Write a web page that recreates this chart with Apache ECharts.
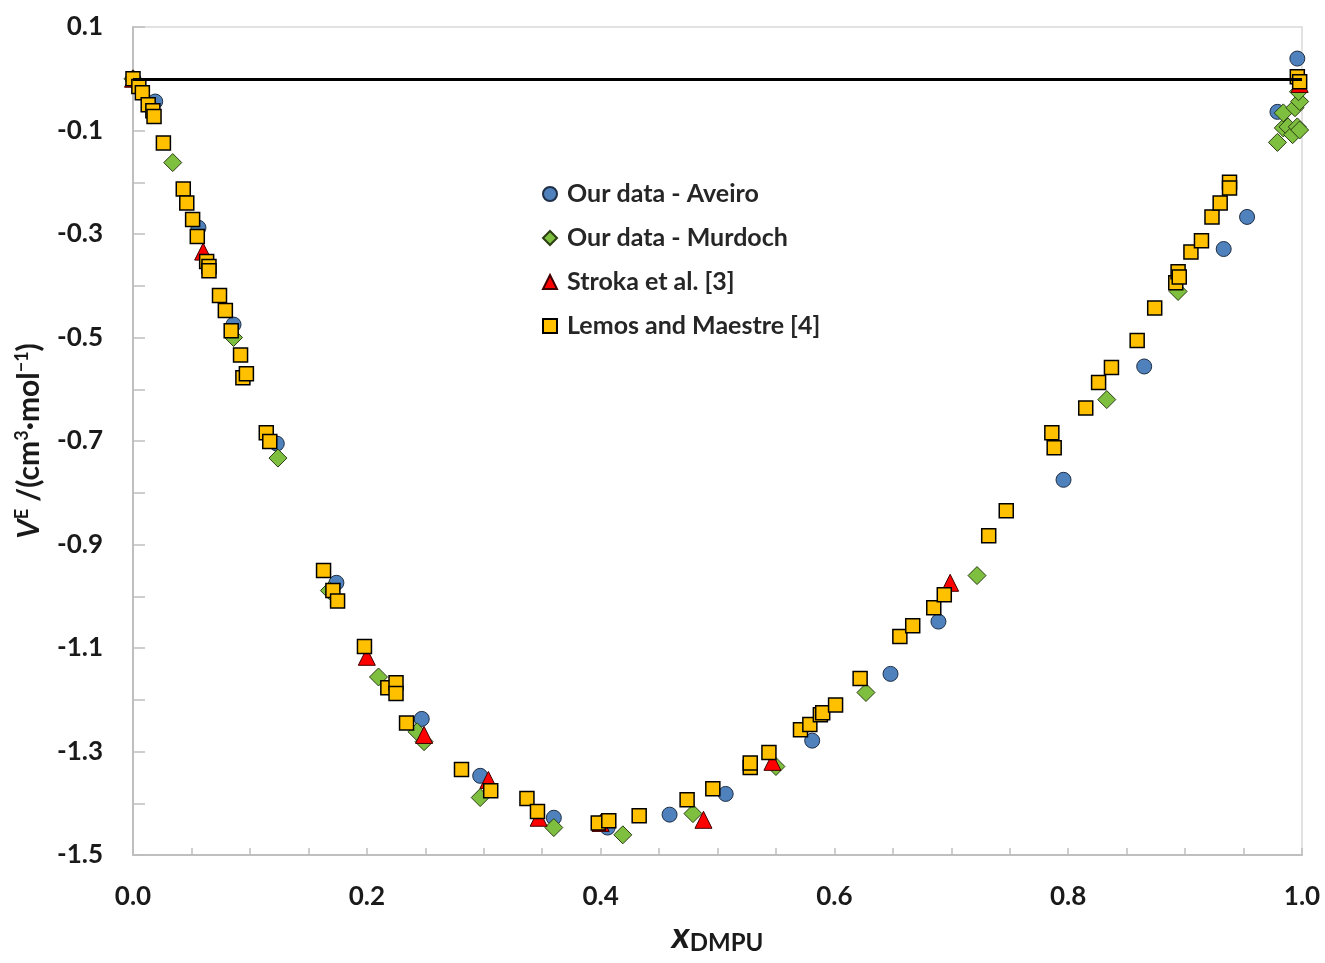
<!DOCTYPE html>
<html>
<head>
<meta charset="utf-8">
<script src="https://cdn.jsdelivr.net/npm/echarts@6/dist/echarts.min.js"></script>
<style>
  html, body { margin: 0; padding: 0; background: #fff; }
  #chart { width: 1325px; height: 963px; }
</style>
</head>
<body>
<div id="chart"></div>
<script>
// V^E vs x_DMPU
var aveiro = [
    [0.0, 0.0], [0.019, -0.044], [0.056, -0.288], [0.086, -0.475], [0.123, -0.705],
    [0.174, -0.974], [0.247, -1.237], [0.297, -1.347], [0.360, -1.428], [0.406, -1.447],
    [0.459, -1.422], [0.507, -1.382], [0.581, -1.279], [0.648, -1.150], [0.689, -1.049],
    [0.796, -0.775], [0.865, -0.556], [0.933, -0.329], [0.953, -0.267], [0.979, -0.064],
    [0.996, 0.039]
];
var murdoch = [
    [0.0, 0.0], [0.034, -0.162], [0.086, -0.500], [0.124, -0.733], [0.168, -0.989],
    [0.210, -1.156], [0.243, -1.262], [0.249, -1.281], [0.297, -1.389], [0.360, -1.447],
    [0.419, -1.461], [0.479, -1.420], [0.550, -1.329], [0.627, -1.186], [0.722, -0.960],
    [0.833, -0.620], [0.894, -0.411], [0.979, -0.123], [0.984, -0.095], [0.984, -0.066],
    [0.988, -0.093], [0.992, -0.108], [0.994, -0.056], [0.996, -0.093], [0.998, -0.099],
    [0.998, -0.044], [0.997, -0.025]
];
var stroka = [
    [0.0, 0.0], [0.060, -0.334], [0.200, -1.117], [0.249, -1.268], [0.304, -1.355],
    [0.347, -1.428], [0.400, -1.438], [0.488, -1.432], [0.547, -1.320], [0.699, -0.974],
    [0.998, -0.010]
];
var lemos = [
    [0.0, 0.0], [0.005, -0.015], [0.008, -0.027], [0.013, -0.050], [0.017, -0.062],
    [0.018, -0.073], [0.026, -0.124], [0.043, -0.213], [0.046, -0.240], [0.051, -0.272],
    [0.055, -0.305], [0.063, -0.353], [0.065, -0.363], [0.065, -0.371], [0.074, -0.419],
    [0.079, -0.448], [0.084, -0.487], [0.092, -0.534], [0.094, -0.578], [0.097, -0.570],
    [0.114, -0.684], [0.117, -0.701], [0.163, -0.950], [0.171, -0.989], [0.175, -1.009],
    [0.198, -1.097], [0.218, -1.177], [0.225, -1.167], [0.225, -1.188], [0.234, -1.245],
    [0.281, -1.335], [0.306, -1.376], [0.337, -1.391], [0.346, -1.416], [0.398, -1.438],
    [0.407, -1.434], [0.433, -1.424], [0.474, -1.393], [0.496, -1.372], [0.528, -1.331],
    [0.528, -1.322], [0.544, -1.302], [0.571, -1.258], [0.579, -1.248], [0.588, -1.229],
    [0.590, -1.225], [0.601, -1.210], [0.622, -1.159], [0.656, -1.078], [0.667, -1.057],
    [0.685, -1.022], [0.694, -0.997], [0.732, -0.883], [0.747, -0.835], [0.786, -0.684],
    [0.788, -0.713], [0.815, -0.636], [0.826, -0.587], [0.837, -0.558], [0.859, -0.506],
    [0.874, -0.443], [0.892, -0.394], [0.894, -0.373], [0.895, -0.383], [0.905, -0.335],
    [0.914, -0.313], [0.923, -0.267], [0.930, -0.240], [0.938, -0.200], [0.938, -0.211],
    [0.996, 0.004], [0.998, -0.006]
];
var seriesNames = ['Our data - Aveiro', 'Our data - Murdoch', 'Stroka et al. [3]', 'Lemos and Maestre [4]'];

var FONT = 'Lato';
var TXT = '#1a1a1a';

var myChart = echarts.init(document.getElementById('chart'));

var option = {
    backgroundColor: '#fff',
    animation: false,
    grid: {
        left: 133,
        right: 23,
        top: 27,
        bottom: 108,
        outerBoundsMode: 'none',
        containLabel: false,
        show: true,
        borderColor: '#d9d9d9',
        borderWidth: 1.5
    },
    legend: {
        orient: 'vertical',
        left: 537,
        top: 176,
        itemWidth: 14,
        itemHeight: 14,
        itemGap: 18,
        data: seriesNames,
        textStyle: {
            fontFamily: FONT,
            fontWeight: 'bold',
            fontSize: 25,
            lineHeight: 26,
            color: '#262626',
            padding: [0, 0, 0, 5]
        }
    },
    xAxis: {
        type: 'value',
        min: 0,
        max: 1,
        interval: 0.05,
        name: '{x|x}{sub|DMPU}',
        nameLocation: 'middle',
        nameGap: 62,
        nameTextStyle: {
            rich: {
                x: { fontFamily: FONT, fontStyle: 'italic', fontWeight: 'bold', fontSize: 37, color: TXT },
                sub: { fontFamily: FONT, fontWeight: 'bold', fontSize: 24, color: TXT, padding: [14, 0, 0, 0] }
            }
        },
        axisLine: { onZero: false, lineStyle: { color: '#bfbfbf', width: 2 } },
        axisTick: { inside: true, length: 7, lineStyle: { color: '#bfbfbf', width: 1.5 } },
        splitLine: { show: false },
        axisLabel: {
            margin: 29,
            fontFamily: FONT,
            fontWeight: 'bold',
            fontSize: 26,
            color: TXT,
            formatter: function (v) {
                var k = Math.round(v * 20);
                return k % 4 === 0 ? v.toFixed(1) : '';
            }
        }
    },
    yAxis: {
        type: 'value',
        min: -1.5,
        max: 0.1,
        interval: 0.1,
        name: '{v|V}{sup|E}{t| /(cm}{sup|3}{t|·mol}{sup|−1}{t|)}',
        nameLocation: 'middle',
        nameRotate: 90,
        nameGap: 88,
        nameTextStyle: {
            rich: {
                v: { fontFamily: FONT, fontStyle: 'italic', fontWeight: 'bold', fontSize: 30, color: TXT },
                t: { fontFamily: FONT, fontWeight: 'bold', fontSize: 30, color: TXT },
                sup: { fontFamily: FONT, fontWeight: 'bold', fontSize: 18, color: TXT, padding: [0, 0, 14, 0] }
            }
        },
        axisLine: { onZero: false, lineStyle: { color: '#bfbfbf', width: 2 } },
        axisTick: { inside: true, length: 12, lineStyle: { color: '#bfbfbf', width: 1.5 } },
        splitLine: { show: false },
        axisLabel: {
            margin: 30,
            fontFamily: FONT,
            fontWeight: 'bold',
            fontSize: 26,
            color: TXT,
            formatter: function (v) {
                var k = Math.round((v + 1.5) * 10);
                return k % 2 === 0 ? v.toFixed(1) : '';
            }
        }
    },
    series: [
        {
            name: seriesNames[0],
            type: 'scatter',
            symbol: 'circle',
            symbolSize: 15,
            data: aveiro,
            itemStyle: { color: '#4f81bd', borderColor: '#1f2f45', borderWidth: 1, opacity: 1 },
            markLine: {
                silent: true,
                symbol: 'none',
                label: { show: false },
                lineStyle: { color: '#000', width: 3, type: 'solid' },
                data: [{ yAxis: 0 }]
            }
        },
        {
            name: seriesNames[1],
            type: 'scatter',
            symbol: 'diamond',
            symbolSize: 18,
            data: murdoch,
            itemStyle: { color: '#7fbf3f', borderColor: '#2a3d14', borderWidth: 1, opacity: 1 }
        },
        {
            name: seriesNames[2],
            type: 'scatter',
            symbol: 'triangle',
            symbolSize: 17,
            data: stroka,
            itemStyle: { color: '#ff0000', borderColor: '#400000', borderWidth: 1, opacity: 1 }
        },
        {
            name: seriesNames[3],
            type: 'scatter',
            symbol: 'rect',
            symbolSize: 14,
            data: lemos,
            itemStyle: { color: '#ffc000', borderColor: '#000', borderWidth: 1.5, opacity: 1 }
        }
    ]
};

myChart.setOption(option);
</script>
</body>
</html>
